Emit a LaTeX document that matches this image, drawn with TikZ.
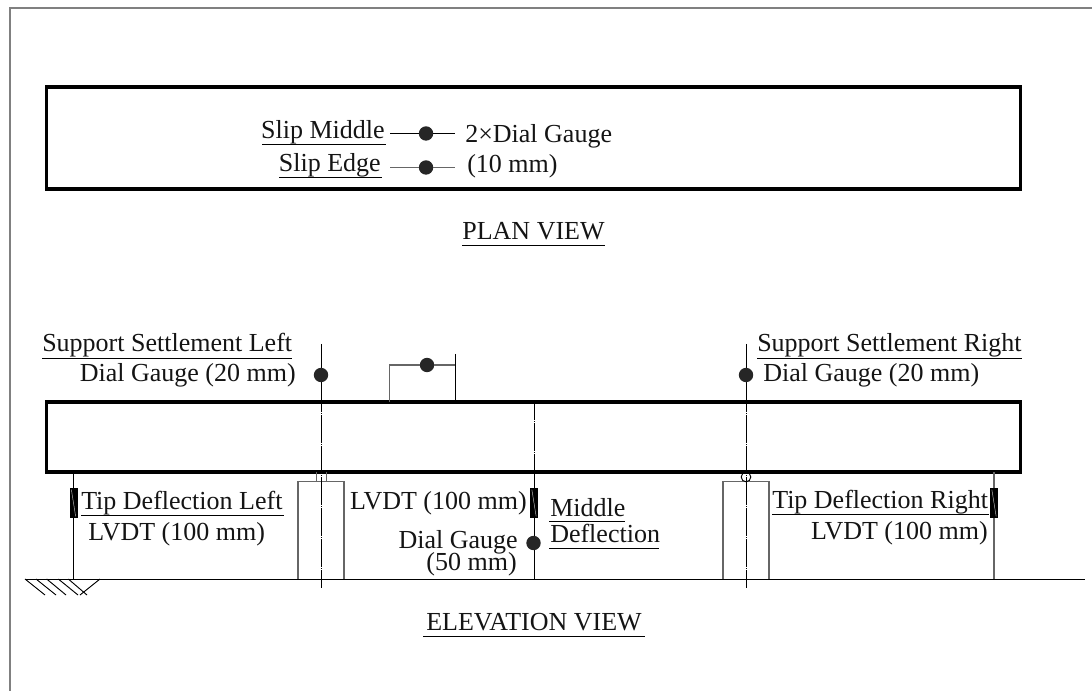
\documentclass[tikz,border=0pt]{standalone}
\usepackage{fontspec}
\setmainfont{Liberation Serif}
\tikzset{
  x=0.75pt,y=-0.75pt,
  frameline/.style={draw=black!50,line width=1.2pt},
  beam/.style={draw=black,line width=2.35pt,line join=miter},
  thin/.style={draw=black,line width=0.7pt},
  greyline/.style={draw=black!60,line width=0.8pt},
  axisline/.style={draw=black,line width=0.6pt,dash pattern=on 20.7pt off 1.1pt on 0.35pt off 1.1pt},
  gauge/.style={circle,fill=black!85,draw=none,minimum size=10.8pt,inner sep=0pt},
  lvdt/.style={rectangle,fill=black,draw=none,minimum width=6pt,minimum height=23.2pt,inner sep=0pt},
  lab/.style={font=\fontsize{19.5pt}{21pt}\selectfont,inner sep=0pt,text=black!92},
  rule/.style={draw=black,line width=0.6pt},
}
\begin{document}
\begin{tikzpicture}
\useasboundingbox (0,0) rectangle (1092,691);
% frame
\draw[frameline] (10,691) -- (10,8) -- (1092,8);
% plan view
\draw[beam] (46.7,87) rectangle (1020.3,189);
\node[gauge] (g1) at (426,133.5) {};
\node[gauge] (g2) at (426,167.5) {};
\coordinate (g1l) at (390,133.5); \coordinate (g1r) at (455,133.5);
\coordinate (g2l) at (390,167.5); \coordinate (g2r) at (455,167.5);
\draw[thin] (g1l) -- (g1) -- (g1r);
\draw[greyline] (g2l) -- (g2) -- (g2r);
\node[lab,anchor=base east] (slipm) at (385,139) {Slip Middle};
\node[lab,anchor=base east] (slipe) at (381,172) {Slip Edge};
\draw[rule] (262,144) -- (386,144);
\draw[rule] (279,177) -- (382,177);
\node[lab,anchor=base west] (dg) at (465,143) {2×Dial Gauge};
\node[lab,anchor=base west] (mm10) at (467,173) {(10 mm)};
\node[lab,anchor=base] (plan) at (533.5,240) {PLAN VIEW};
\draw[rule] (462,245) -- (605,245);
% elevation beam
\draw[beam] (46.7,402) rectangle (1020.7,472);
% ground
\draw[thin] (25,579) -- (1085,579);
\draw[thin] (73.5,472) -- (73.5,579);
\draw[greyline] (994,472) -- (994,579);
\draw[thin] (534,472) -- (534,579);
\foreach \a/\b in {25/45,36/56,46.7/66,58.3/78,68.3/87} {\draw[thin] (\a,579) -- (\b,595);}
\draw[thin] (100,579) -- (80,595);
% supports
\draw[greyline] (298,579) -- (298,481.5) -- (344,481.5) -- (344,579);
\draw[greyline] (723,579) -- (723,481.5) -- (769,481.5) -- (769,579);
\draw[greyline] (316.5,472) -- (316.5,481.5) (326.5,472) -- (326.5,481.5);
\draw[thin] (746,477) circle[radius=4.8];
% axes
\coordinate (a1) at (321,344); \coordinate (a1b) at (321,402); \coordinate (a1c) at (321,588);
\coordinate (a2) at (534,402); \coordinate (a2c) at (534,472);
\coordinate (a3) at (746,344); \coordinate (a3b) at (746,402); \coordinate (a3c) at (746,588);
\draw[thin] (a1) -- (a1b);
\draw[thin] (a3) -- (a3b);
\draw[axisline,dash phase=13.2pt] (a1b) -- (a1c);
\draw[axisline,dash phase=13.2pt] (a3b) -- (a3c);
\draw[axisline,dash phase=7.2pt] (a2) -- (a2c);
% gauges
\node[gauge] (g3) at (321,375) {};
\node[gauge] (g4) at (427,365) {};
\node[gauge] (g5) at (746,375) {};
\node[gauge] (g6) at (533.5,543) {};
\coordinate (b1) at (389.5,402); \coordinate (b2) at (389.5,365); \coordinate (b3) at (455,365);
\coordinate (b4) at (455,354); \coordinate (b5) at (455,402);
\draw[greyline] (b1) -- (b2) -- (g4) -- (b3);
\draw[thin] (b4) -- (b5);
% lvdts
\node[lvdt] (l1) at (73.5,503) {};
\node[lvdt] (l2) at (534,503) {};
\node[lvdt] (l3) at (994,503) {};
\foreach \n in {l1,l2,l3} {\draw[white!75!black,line width=0.35pt] ([xshift=-1.6pt,yshift=10pt]\n.center) -- ([xshift=1.6pt,yshift=-10pt]\n.center);}
% labels
\node[lab,anchor=base west] at (42,352) {Support Settlement Left};
\draw[rule] (42,358) -- (292,358);
\node[lab,anchor=base east] at (296,381.5) {Dial Gauge (20 mm)};
\node[lab,anchor=base west] at (757,352) {Support Settlement Right};
\draw[rule] (757,358) -- (1022,358);
\node[lab,anchor=base west] at (763,381.5) {Dial Gauge (20 mm)};
\node[lab,anchor=base west] at (81,509.5) {Tip Deflection Left};
\draw[rule] (81,515) -- (284,515);
\node[lab,anchor=base west] at (88,540.5) {LVDT (100 mm)};
\node[lab,anchor=base west] at (772,508.5) {Tip Deflection Right};
\draw[rule] (772,514) -- (989,514);
\node[lab,anchor=base east] at (988,539) {LVDT (100 mm)};
\node[lab,anchor=base east] at (527,509.5) {LVDT (100 mm)};
\node[lab,anchor=base east] at (518,548) {Dial Gauge};
\node[lab,anchor=base east] at (517,570) {(50 mm)};
\node[lab,anchor=base west] at (550,516) {Middle};
\draw[rule] (549,521) -- (625,521);
\node[lab,anchor=base west] at (550,542) {Deflection};
\draw[rule] (549,548) -- (659,548);
\node[lab,anchor=base] (elev) at (534,630) {ELEVATION VIEW};
\draw[rule] (423,636) -- (645,636);
\end{tikzpicture}
\end{document}
